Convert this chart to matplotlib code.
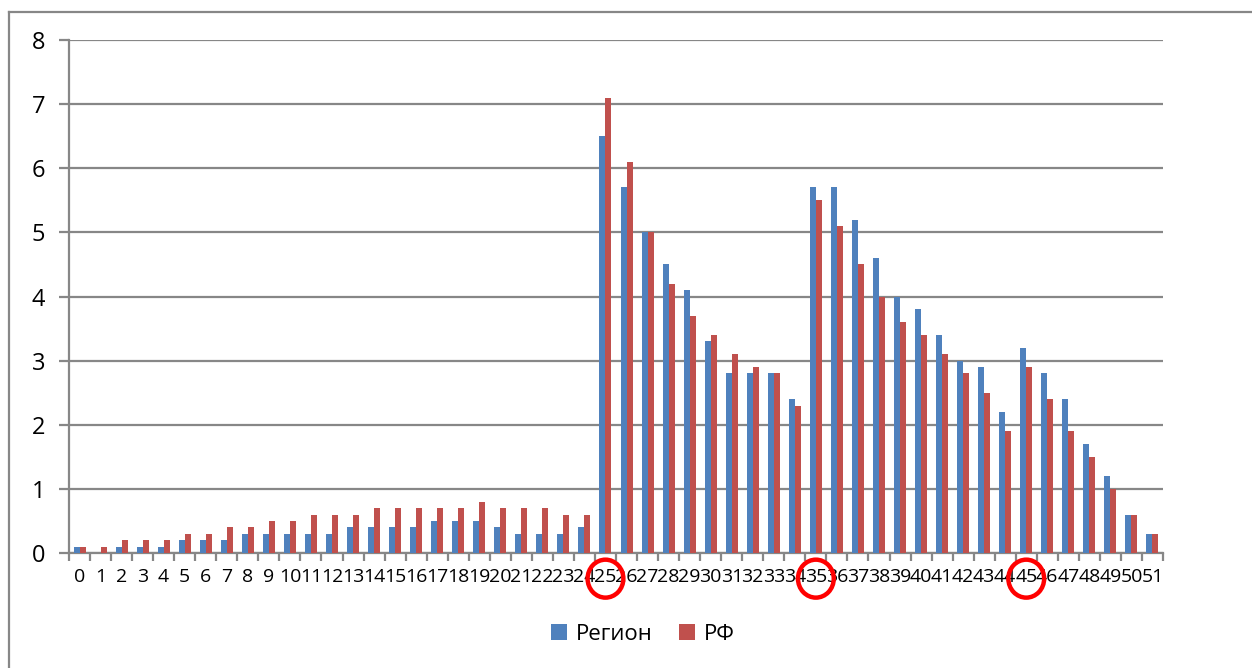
import matplotlib
matplotlib.use("Agg")
import matplotlib.pyplot as plt
import matplotlib.transforms as mtransforms
from matplotlib.lines import Line2D
from matplotlib.patches import Ellipse
import numpy as np

# Values
categories = [str(i) for i in range(52)]
region = [
    0.1, 0.0, 0.1, 0.1, 0.1, 0.2, 0.2, 0.2, 0.3, 0.3,
    0.3, 0.3, 0.3, 0.4, 0.4, 0.4, 0.4, 0.5, 0.5, 0.5,
    0.4, 0.3, 0.3, 0.3, 0.4, 6.5, 5.7, 5.0, 4.5, 4.1,
    3.3, 2.8, 2.8, 2.8, 2.4, 5.7, 5.7, 5.2, 4.6, 4.0,
    3.8, 3.4, 3.0, 2.9, 2.2, 3.2, 2.8, 2.4, 1.7, 1.2,
    0.6, 0.3,
]
rf = [
    0.1, 0.1, 0.2, 0.2, 0.2, 0.3, 0.3, 0.4, 0.4, 0.5,
    0.5, 0.6, 0.6, 0.6, 0.7, 0.7, 0.7, 0.7, 0.7, 0.8,
    0.7, 0.7, 0.7, 0.6, 0.6, 7.1, 6.1, 5.0, 4.2, 3.7,
    3.4, 3.1, 2.9, 2.8, 2.3, 5.5, 5.1, 4.5, 4.0, 3.6,
    3.4, 3.1, 2.8, 2.5, 1.9, 2.9, 2.4, 1.9, 1.5, 1.0,
    0.6, 0.3,
]
series_labels = ["Регион", "РФ"]
highlighted = ["25", "35", "45"]
y_ticks = [0, 1, 2, 3, 4, 5, 6, 7, 8]

BLUE = "#4F81BD"
RED = "#C0504D"
GRID = "#878787"

plt.rcParams["font.family"] = ["Open Sans", "DejaVu Sans"]

W, H = 1252, 668
fig = plt.figure(figsize=(W / 100, H / 100), dpi=100)
ax = fig.add_axes([69 / W, 1 - 553 / H, (1163 - 69) / W, (553 - 40) / H])

x = np.arange(len(categories))
bw = 0.286
ax.bar(x - bw / 2, region, width=bw, color=BLUE, label=series_labels[0], zorder=3)
ax.bar(x + bw / 2, rf, width=bw, color=RED, label=series_labels[1], zorder=3)

ax.set_xlim(-0.5, len(categories) - 0.5)
ax.set_ylim(0, 8)
ax.set_yticks(y_ticks)
ax.set_yticklabels([str(t) for t in y_ticks], fontsize=17)
ax.yaxis.grid(True, color=GRID, linewidth=1.6, zorder=0)
ax.tick_params(axis="y", length=7, width=1.6, color=GRID, pad=10)

ax.set_xticks(x)
ax.set_xticklabels(categories, fontsize=14)
ax.tick_params(axis="x", which="major", length=0, pad=11)
ax.set_xticks(np.arange(-0.5, len(categories)), minor=True)
ax.tick_params(axis="x", which="minor", length=6, width=1.6, color=GRID)

for side in ["top", "right"]:
    ax.spines[side].set_visible(False)
for side in ["left", "bottom"]:
    ax.spines[side].set_color(GRID)
    ax.spines[side].set_linewidth(1.6)

# red circles around the highlighted labels
trans = mtransforms.blended_transform_factory(ax.transData, ax.transAxes)
for lab in highlighted:
    ax.add_patch(Ellipse((categories.index(lab), -0.05), 1.7, 0.074,
                         transform=trans, fill=False, edgecolor="red",
                         linewidth=3.2, clip_on=False, zorder=5))

fig.legend(loc="center", bbox_to_anchor=(643 / W, 1 - 634 / H), ncol=2,
           frameon=False, fontsize=16, handlelength=0.7, handleheight=0.7,
           handletextpad=0.4, columnspacing=1.2)

# outer chart border (left and top edges visible)
fig.add_artist(Line2D([8.5 / W, 8.5 / W], [0, 1 - 12 / H], color=GRID, linewidth=1.6))
fig.add_artist(Line2D([8.5 / W, 1], [1 - 12 / H, 1 - 12 / H], color=GRID, linewidth=1.6))

fig.savefig("out.png", dpi=100)
